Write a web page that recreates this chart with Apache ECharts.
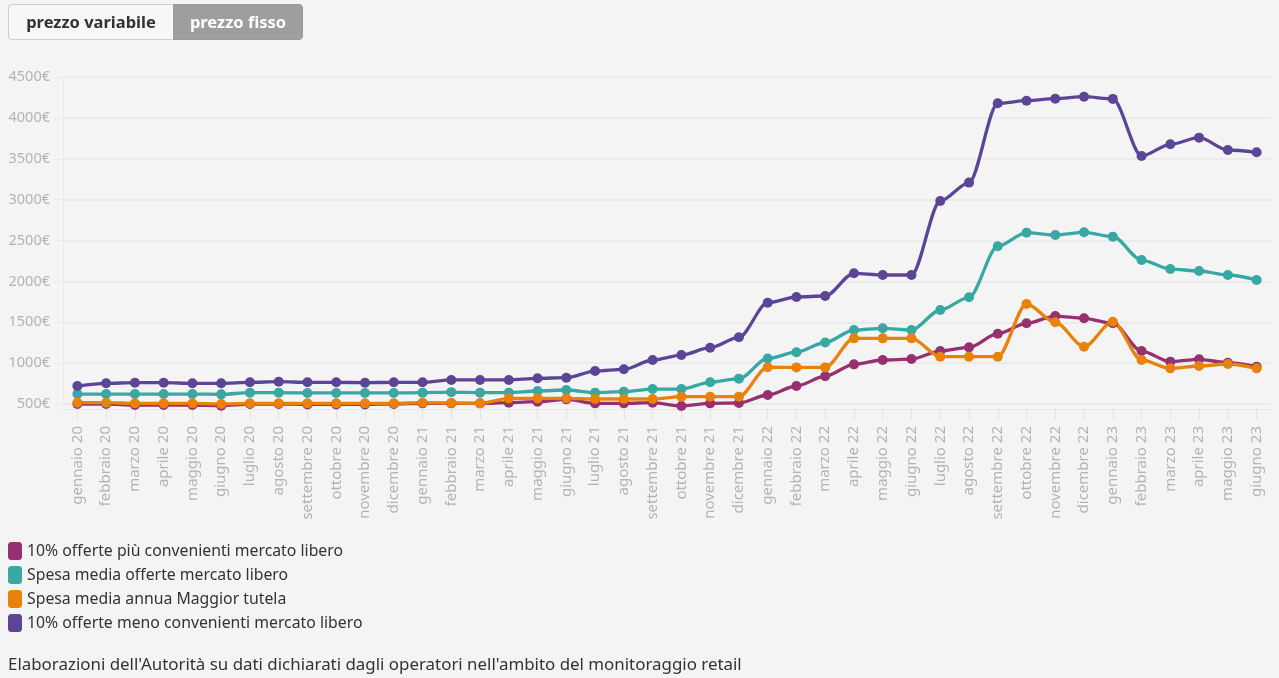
<!DOCTYPE html>
<html>
<head>
<meta charset="utf-8">
<script src="https://cdn.jsdelivr.net/npm/echarts@6/dist/echarts.min.js"></script>
<style>
  html, body { margin: 0; padding: 0; background: #f4f4f4; }
  #chart { position: absolute; left: 0; top: 0; width: 1279px; height: 678px; }
  .btns { position: absolute; left: 8px; top: 4px; display: flex; z-index: 2; font-family: "Noto Sans", Lato, sans-serif; }
  .btn { height: 36px; line-height: 34px; font-size: 16.5px; font-weight: bold; box-sizing: border-box; text-align: center; }
  .b1 { background: #f7f7f7; color: #333; border: 1px solid #cfcfcf; border-right: none; border-radius: 4px 0 0 4px; width: 165px; }
  .b2 { background: #9e9e9e; color: #fff; border: 1px solid #9a9a9a; border-radius: 0 4px 4px 0; width: 130px; }
</style>
</head>
<body>
<div class="btns"><div class="btn b1">prezzo variabile</div><div class="btn b2">prezzo fisso</div></div>
<div id="chart"></div>
<script>
const months = ["gennaio 20","febbraio 20","marzo 20","aprile 20","maggio 20","giugno 20","luglio 20","agosto 20","settembre 20","ottobre 20","novembre 20","dicembre 20",
  "gennaio 21","febbraio 21","marzo 21","aprile 21","maggio 21","giugno 21","luglio 21","agosto 21","settembre 21","ottobre 21","novembre 21","dicembre 21",
  "gennaio 22","febbraio 22","marzo 22","aprile 22","maggio 22","giugno 22","luglio 22","agosto 22","settembre 22","ottobre 22","novembre 22","dicembre 22",
  "gennaio 23","febbraio 23","marzo 23","aprile 23","maggio 23","giugno 23"];

const piuConvenienti = [500,500,488,488,488,480,500,500,495,495,495,500,508,
  508,508,516,528,557,508,508,516,475,508,
  512,610,720,840,985,1038,1050,1148,1193,1360,
  1487,1576,1548,1487,1148,1018,1047,1005,956];

const spesaMedia = [622,622,622,622,622,618,639,639,635,635,635,635,639,
  645,639,639,659,671,639,651,683,683,765,
  810,1057,1134,1252,1405,1426,1405,1650,1805,2430,
  2596,2567,2600,2547,2261,2151,2127,2078,2017];

const maggiorTutela = [516,516,508,508,508,500,508,508,508,508,508,508,516,
  512,508,569,569,569,561,561,561,590,590,
  590,950,948,948,1303,1303,1303,1079,1079,1079,
  1723,1499,1201,1507,1038,936,965,989,936];

const menoConvenienti = [720,753,761,761,753,753,765,773,765,765,761,765,765,
  794,794,794,814,822,903,924,1038,1099,1189,
  1316,1739,1809,1821,2099,2078,2078,2983,3208,4178,
  4210,4235,4259,4232,3534,3677,3758,3607,3579];

const seriesNames = ["10% offerte più convenienti mercato libero","Spesa media offerte mercato libero","Spesa media annua Maggior tutela","10% offerte meno convenienti mercato libero"];
const seriesColors = ["#96306f","#37a8a2","#e8820a","#5c4597"];
const seriesData = [piuConvenienti, spesaMedia, maggiorTutela, menoConvenienti];

const font = '"Noto Sans", Lato, sans-serif';
const chart = echarts.init(document.getElementById('chart'));
chart.setOption({
  backgroundColor: '#f4f4f4',
  animation: false,
  textStyle: { fontFamily: font },
  grid: { left: 63, right: 8, top: 77, bottom: 274 },
  legend: {
    orient: 'vertical', left: 8, top: 542, padding: 0, itemWidth: 14, itemHeight: 18, itemGap: 6,
    icon: 'roundRect', textStyle: { fontSize: 15.8, color: '#333', fontFamily: font },
    data: seriesNames
  },
  graphic: [{
    type: 'text', x: 8, y: 665,
    style: { text: "Elaborazioni dell'Autorità su dati dichiarati dagli operatori nell'ambito del monitoraggio retail", fontSize: 16.9, fill: '#333', fontFamily: font, verticalAlign: 'middle' }
  }],
  xAxis: {
    type: 'category', data: months, boundaryGap: true, offset: 5,
    axisLine: { show: true, lineStyle: { color: '#e6e6e6', width: 1 } },
    axisTick: { show: true, alignWithLabel: true, length: 11, lineStyle: { color: '#e3e3e3' } },
    axisLabel: { rotate: 90, interval: 0, color: '#b3b3b3', fontSize: 15, margin: 17, fontFamily: font },
    splitLine: { show: false }
  },
  yAxis: {
    type: 'value', min: 500, max: 4500, interval: 500,
    axisLine: { show: true, lineStyle: { color: '#e9e9e9' } },
    axisTick: { show: true, length: 9, lineStyle: { color: '#e9e9e9' } },
    axisLabel: { formatter: v => v + '€', color: '#b3b3b3', fontSize: 14.5, margin: 13, fontFamily: font },
    splitLine: { show: true, lineStyle: { color: '#e8e8e8', width: 1.5 } }
  },
  series: seriesData.map((d, i) => ({
    name: seriesNames[i], type: 'line', data: d, clip: false,
    smooth: 0.3, smoothMonotone: 'x',
    symbol: 'circle', symbolSize: 10, showAllSymbol: true,
    itemStyle: { color: seriesColors[i] },
    lineStyle: { color: seriesColors[i], width: 3.3 },
    emphasis: { disabled: true }
  }))
});
</script>
</body>
</html>
